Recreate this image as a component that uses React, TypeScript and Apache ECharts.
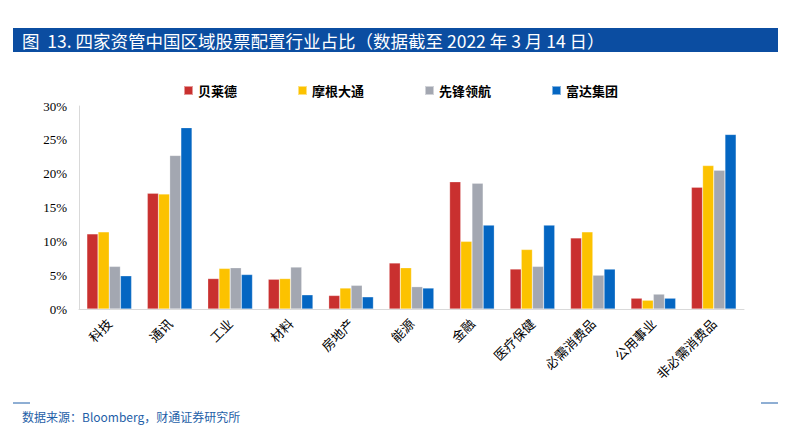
import React, { useEffect, useRef } from "react";
import * as echarts from "echarts";

const categories = ["科技", "通讯", "工业", "材料", "房地产", "能源", "金融", "医疗保健", "必需消费品", "公用事业", "非必需消费品"];
const seriesNames = ["贝莱德", "摩根大通", "先锋领航", "富达集团"];
const blackrock = [11.1, 17.1, 4.5, 4.4, 2.0, 6.8, 18.8, 5.9, 10.5, 1.6, 18.0];
const jpmorgan = [11.4, 17.0, 6.0, 4.5, 3.1, 6.1, 10.0, 8.8, 11.4, 1.3, 21.2];
const vanguard = [6.3, 22.7, 6.1, 6.2, 3.5, 3.3, 18.6, 6.3, 5.0, 2.2, 20.5];
const fidelity = [4.9, 26.8, 5.1, 2.1, 1.8, 3.1, 12.4, 12.4, 5.9, 1.6, 25.8];
const yTicks = [0, 5, 10, 15, 20, 25, 30];

const colors = ["#C9302F", "#FCC200", "#A3A7B1", "#0466C2"];

export default function App() {
  const ref = useRef<HTMLDivElement>(null);
  useEffect(() => {
    const chart = echarts.init(ref.current!, undefined, { renderer: "svg" });
    const values = [blackrock, jpmorgan, vanguard, fidelity];
    chart.setOption({
      animation: false,
      backgroundColor: "#ffffff",
      color: colors,
      graphic: [
        { type: "rect", shape: { x: 13, y: 28, width: 765, height: 24 }, style: { fill: "#0B4DA1" } },
        {
          type: "text",
          x: 22,
          y: 40,
          style: {
            text: "图  13. 四家资管中国区域股票配置行业占比（数据截至 2022 年 3 月 14 日）",
            fill: "#ffffff",
            font: '17.5px "Noto Sans CJK SC"',
            textVerticalAlign: "middle",
          },
        },
        { type: "line", shape: { x1: 13, y1: 403, x2: 30, y2: 403 }, style: { stroke: "#1F5FA8", lineWidth: 1 } },
        { type: "line", shape: { x1: 761, y1: 403, x2: 778, y2: 403 }, style: { stroke: "#1F5FA8", lineWidth: 1 } },
        {
          type: "text",
          x: 22,
          y: 416,
          style: {
            text: "数据来源：Bloomberg，财通证券研究所",
            fill: "#1F5FA8",
            font: '12px "Noto Sans CJK SC"',
            textVerticalAlign: "middle",
          },
        },
      ],
      legend: {
        top: 79,
        left: 178,
        itemWidth: 9,
        itemHeight: 9,
        itemGap: 60,
        icon: "rect",
        textStyle: { fontFamily: "Noto Sans CJK SC", fontSize: 13, fontWeight: "bold", color: "#000" },
        data: seriesNames,
      },
      grid: { left: 79, right: 47, top: 106, bottom: 126, containLabel: false },
      xAxis: {
        type: "category",
        data: categories,
        axisLine: { show: true, lineStyle: { color: "#D9D9D9" } },
        axisTick: { show: false },
        axisLabel: {
          rotate: 45,
          interval: 0,
          margin: 12,
          fontFamily: "Noto Sans CJK SC",
          fontSize: 13,
          color: "#000",
        },
      },
      yAxis: {
        type: "value",
        min: yTicks[0],
        max: yTicks[yTicks.length - 1],
        interval: 5,
        axisLine: { show: true, lineStyle: { color: "#D9D9D9" } },
        axisTick: { show: false },
        splitLine: { show: false },
        axisLabel: {
          formatter: "{value}%",
          fontFamily: "Liberation Serif",
          fontSize: 13,
          color: "#000",
          margin: 12,
        },
      },
      series: seriesNames.map((name, i) => ({
        name,
        type: "bar",
        data: values[i],
        barGap: "0%",
        barCategoryGap: "26%",
        itemStyle: { color: colors[i], borderColor: "rgba(255,255,255,0.5)", borderWidth: 0.5 },
      })),
    });
    return () => chart.dispose();
  }, []);
  return <div ref={ref} style={{ position: "fixed", left: 0, top: 0, width: 791, height: 435 }} />;
}
